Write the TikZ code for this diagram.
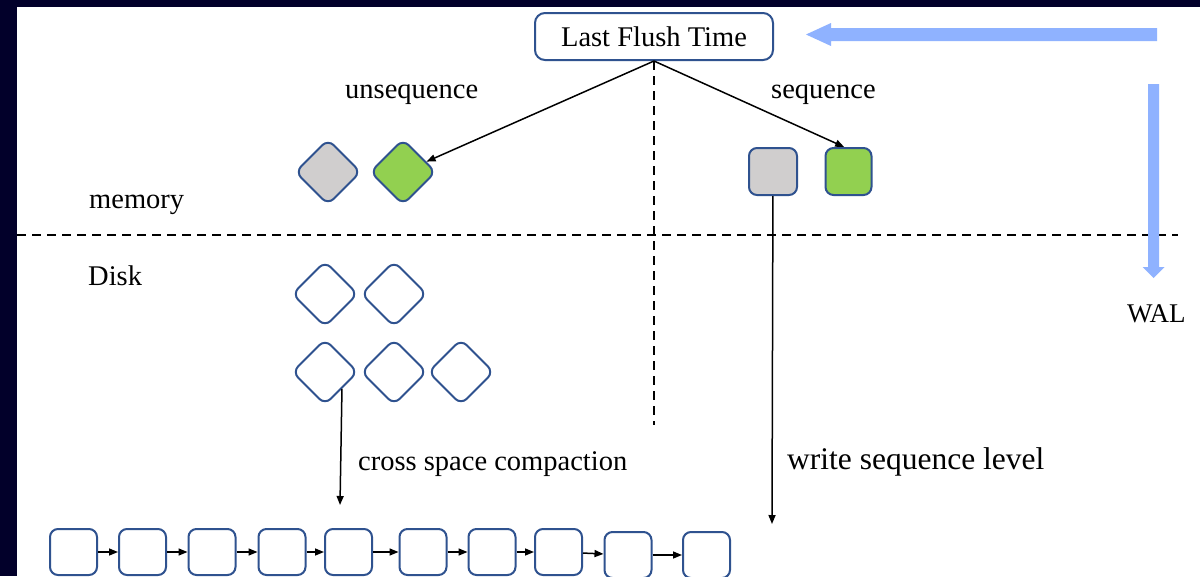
\documentclass[tikz,border=0pt]{standalone}
\usepackage{fontspec}
\setmainfont{Liberation Serif}
\usetikzlibrary{arrows.meta,calc}
\definecolor{frame}{RGB}{2,0,42}
\definecolor{edge}{RGB}{47,82,143}
\definecolor{cellgray}{RGB}{208,206,206}
\definecolor{cellgreen}{RGB}{146,208,80}
\definecolor{walblue}{RGB}{143,178,255}
\begin{document}
\begin{tikzpicture}[x=1pt,y=-1pt,
  cell/.style={draw=edge,line width=2pt,rounded corners=8pt,minimum size=46pt,inner sep=0pt},
  tile/.style={cell,rotate=45,minimum size=46pt},
  link/.style={line width=1.5pt,-{Triangle[length=9pt,width=7pt]}},
  sep/.style={line width=2pt,dash pattern=on 9pt off 6pt},
  lbl/.style={inner sep=0pt,anchor=base west,font=\fontsize{28.5}{30}\selectfont},
  flow/.style={fill=walblue}]
% frame and canvas
\useasboundingbox (0,0) rectangle (1200,576);
\fill[frame] (0,0) rectangle (1200,576);
\fill[white] (17,7) rectangle (1200,576);

% header node
\node[cell,minimum width=238pt,minimum height=47pt,rounded corners=10pt,
      font=\fontsize{28.5}{30}\selectfont] (lft) at (654,36.5) {Last Flush Time};

% labels
\node[lbl] (unseq) at (345,98) {unsequence};
\node[lbl] (seq) at (771,98) {sequence};
\node[lbl] (mem) at (89,208) {memory};
\node[lbl] (disk) at (88,285) {Disk};
\node[lbl] (csc) at (358,470) {cross space compaction};
\node[lbl,font=\fontsize{31.5}{33}\selectfont] (wsl) at (787,469) {write sequence level};
\node[lbl,font=\fontsize{27}{29}\selectfont] (wal) at (1127,322) {WAL};

% separators
\coordinate (hl) at (17,235);
\coordinate (hr) at (1178,235);
\coordinate (vend) at (654,425);
\draw[sep] (hl) -- (hr);
\draw[sep] (lft.south) -- (vend);

% memtables
\node[tile,fill=cellgray] (ug) at (328,172) {};
\node[tile,fill=cellgreen] (ugr) at (403,172) {};
\node[cell,fill=cellgray,minimum width=48pt,minimum height=47pt] (sg) at (773,171.5) {};
\node[cell,fill=cellgreen,minimum height=47pt] (sgr) at (848.5,171.5) {};

% unsequence files on disk
\node[tile] (d1) at (325,294) {};
\node[tile] (d2) at (394,294) {};
\node[tile] (d4) at (325,372) {};
\node[tile] (d5) at (394,372) {};
\node[tile] (d6) at (461,372) {};

% sequence level files
\foreach \i/\x/\y in {1/73.5/552, 2/142.5/552, 3/212/552, 4/282/552, 5/348.5/552,
                      6/423/552, 7/492/552, 8/558.5/552, 9/628/555, 10/706.5/555}
  \node[cell,minimum width=47pt] (b\i) at (\x,\y) {};
\foreach \i [evaluate=\i as \j using int(\i+1)] in {1,...,9}
  \draw[link] (b\i) -- (b\j);

% flush connectors
\coordinate (wslend) at (772,524);
\coordinate (cscend) at (340,505);
\draw[link] (lft.south) -- (ugr);
\draw[link] (lft.south) -- (sgr.100);
\draw[link] (sg) -- (wslend);
\draw[link] (d4.south) -- (cscend);

% write-ahead log arrows
\fill[flow] (1157,28) -- (831,28) -- (831,23) -- (806,34.5) -- (831,46) -- (831,41) -- (1157,41) -- cycle;
\fill[flow] (1148,84) -- (1159,84) -- (1159,267) -- (1164.5,267) -- (1153.5,278) -- (1142.5,267) -- (1148,267) -- cycle;
\end{tikzpicture}
\end{document}
